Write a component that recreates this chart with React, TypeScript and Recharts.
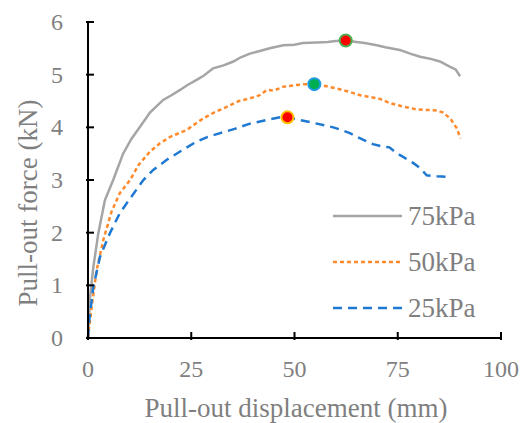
import React from 'react';
import { LineChart, Line, XAxis, YAxis, ReferenceDot } from 'recharts';

// pull-out displacement (mm) / force (kN)
const disp75 = [0, 0.1, 0.5, 1.3, 2.5, 4.1, 6.1, 8.5, 10.5, 12.6, 15, 18.2, 20, 22.3, 24, 26.3, 28, 30.3, 33, 35.2, 37, 39.2, 41.6, 44, 47.3, 50, 52, 55.4, 58, 60, 62.4, 65, 67, 69.9, 72, 75.5, 78, 80.4, 83, 85.2, 87.7, 89, 90.1];
const force75 = [0, 0.15, 0.78, 1.35, 1.99, 2.62, 3.0, 3.5, 3.78, 4.01, 4.28, 4.52, 4.6, 4.71, 4.8, 4.9, 4.98, 5.12, 5.18, 5.25, 5.33, 5.4, 5.45, 5.5, 5.56, 5.57, 5.6, 5.61, 5.62, 5.64, 5.65, 5.62, 5.6, 5.56, 5.52, 5.47, 5.4, 5.34, 5.3, 5.25, 5.15, 5.1, 4.97];

const disp50 = [0, 0.2, 0.9, 2.1, 3.7, 5.7, 7.7, 10.2, 12.2, 15, 17.5, 19.9, 23.9, 27.9, 30.5, 33.6, 36.5, 39.2, 41.6, 43.3, 45, 47.3, 50, 52.5, 54.8, 57, 60.2, 63, 65.9, 68, 70.7, 73.1, 76, 79.6, 82, 84.4, 86, 87.7, 89.3, 90.2];
const force50 = [0, 0.15, 0.6, 1.29, 1.86, 2.4, 2.75, 3.0, 3.28, 3.54, 3.7, 3.82, 3.95, 4.17, 4.28, 4.39, 4.5, 4.55, 4.61, 4.71, 4.7, 4.77, 4.8, 4.82, 4.82, 4.79, 4.74, 4.68, 4.61, 4.58, 4.54, 4.46, 4.4, 4.34, 4.33, 4.32, 4.28, 4.17, 3.98, 3.79];

const disp25 = [0, 0.3, 1.3, 2.9, 5.3, 7.7, 10.2, 13.4, 15.8, 19, 22.3, 26.3, 29, 32, 35.5, 39.2, 43.3, 46.5, 48.3, 51.3, 55.4, 59.4, 61, 63.4, 66.7, 69, 71.5, 73, 74.7, 76.5, 78.8, 80.5, 82, 84.5, 86.9];
const force25 = [0, 0.34, 0.97, 1.54, 1.99, 2.37, 2.65, 3.0, 3.19, 3.38, 3.54, 3.73, 3.82, 3.89, 3.97, 4.07, 4.14, 4.19, 4.19, 4.14, 4.07, 4.0, 3.96, 3.89, 3.76, 3.68, 3.63, 3.62, 3.51, 3.43, 3.32, 3.22, 3.09, 3.07, 3.06];

// peak points
const peakDisp = [62.4, 54.8, 48.3];
const peakForce = [5.65, 4.82, 4.19];

const xTicks = [0, 25, 50, 75, 100];
const yTicks = [0, 1, 2, 3, 4, 5, 6];

const FONT = '"Liberation Serif", "Times New Roman", serif';
const TEXT = '#7f7f7f';

const toRows = (xs: number[], ys: number[]) => xs.map((x, i) => ({ x, y: ys[i] }));

const series = [
  { name: '75kPa', data: toRows(disp75, force75), color: '#a5a5a5', dash: undefined as string | undefined },
  { name: '50kPa', data: toRows(disp50, force50), color: '#ff8a2b', dash: '4 3' },
  { name: '25kPa', data: toRows(disp25, force25), color: '#1f78d1', dash: '9 6' },
];

const peakStyle = [
  { fill: '#ff0000', stroke: '#4caf50' },
  { fill: '#00b050', stroke: '#1e9be0' },
  { fill: '#ff0000', stroke: '#ffc000' },
];

function YTick(props: any) {
  const { x, y, payload } = props;
  return (
    <g>
      <line x1={x} x2={x + 8} y1={y} y2={y} stroke="#000" strokeWidth={2} />
      <text x={x - 23} y={y} dy={8} textAnchor="end" fontSize={24} fontFamily={FONT} fill={TEXT}>
        {payload.value}
      </text>
    </g>
  );
}

function XTick(props: any) {
  const { x, y, payload } = props;
  return (
    <g>
      <line x1={x} x2={x} y1={y} y2={y - 8} stroke="#000" strokeWidth={2} />
      <text x={x} y={y + 37} textAnchor="middle" fontSize={24} fontFamily={FONT} fill={TEXT}>
        {payload.value}
      </text>
    </g>
  );
}

function LegendBox() {
  return (
    <svg width={150} height={140} style={{ position: 'absolute', left: 330, top: 196 }}>
      {series.map((s, i) => (
        <g key={s.name}>
          <line x1={3} x2={72} y1={20 + i * 46} y2={20 + i * 46} stroke={s.color} strokeWidth={2.5} strokeDasharray={s.dash} />
          <text x={78} y={29 + i * 46} fontSize={27} fontFamily={FONT} fill={TEXT}>
            {s.name}
          </text>
        </g>
      ))}
    </svg>
  );
}

export default function App() {
  return (
    <div style={{ position: 'absolute', left: 0, top: 0, width: 524, height: 423, background: 'white' }}>
      <LineChart width={524} height={423} margin={{ top: 22, right: 23, bottom: 0, left: 0 }}>
        <XAxis
          type="number"
          dataKey="x"
          domain={[0, 100]}
          ticks={xTicks}
          interval={0}
          tickSize={0}
          tickLine={false}
          tick={<XTick />}
          stroke="#000"
          strokeWidth={2}
          height={85}
          label={{
            content: () => (
              <text x={296} y={417} textAnchor="middle" fontSize={27} fontFamily={FONT} fill={TEXT}>
                Pull-out displacement (mm)
              </text>
            ),
          }}
        />
        <YAxis
          type="number"
          dataKey="y"
          domain={[0, 6]}
          ticks={yTicks}
          interval={0}
          tickSize={0}
          tickLine={false}
          tick={<YTick />}
          stroke="#000"
          strokeWidth={2}
          width={88}
          label={{
            content: () => (
              <text transform="translate(37,203) rotate(-90)" textAnchor="middle" fontSize={27} fontFamily={FONT} fill={TEXT}>
                Pull-out force (kN)
              </text>
            ),
          }}
        />
        {series.map((s) => (
          <Line
            key={s.name}
            data={s.data}
            dataKey="y"
            name={s.name}
            type="linear"
            stroke={s.color}
            strokeWidth={2.5}
            strokeDasharray={s.dash}
            dot={false}
            activeDot={false}
            isAnimationActive={false}
          />
        ))}
        {peakDisp.map((px, i) => (
          <ReferenceDot
            key={i}
            x={px}
            y={peakForce[i]}
            r={6}
            fill={peakStyle[i].fill}
            stroke={peakStyle[i].stroke}
            strokeWidth={2}
          />
        ))}
      </LineChart>
      <LegendBox />
    </div>
  );
}
